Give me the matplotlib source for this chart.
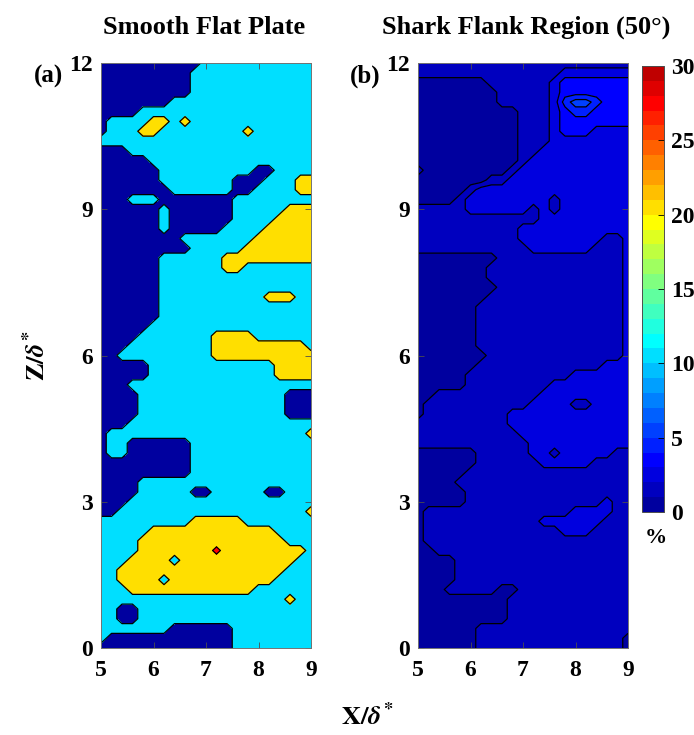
import numpy as np
import matplotlib
matplotlib.use('Agg')
import matplotlib.pyplot as plt
from matplotlib.colors import ListedColormap

plt.rcParams['font.family'] = ['Liberation Serif', 'DejaVu Serif']
plt.rcParams['font.weight'] = 'bold'
plt.rcParams['mathtext.fontset'] = 'stix'

# ---------------- data ----------------
x_values = np.linspace(5, 9, 21)      # X/delta*
z_values = np.linspace(0, 12, 61)     # Z/delta*

# Smooth flat plate: 0 -> <10 %, 1 -> 10-20 %, 2 -> 20-30 %, 3 -> >30 %  (rows from Z=12 down to Z=0)
smooth_rows = [
    "000000000011111111111",
    "000000000111111111111",
    "000000000111111111111",
    "000000000111111111111",
    "000000011111111111111",
    "000011111111111111111",
    "011112212111111111111",
    "011122111111112111111",
    "111111111111111111111",
    "000111111111111111111",
    "000001111111111111111",
    "000000111111111001111",
    "000000111111100011122",
    "000000011111100111122",
    "000111000000011111111",
    "000000100000011111222",
    "000000100000011112222",
    "000000100000111122222",
    "000000001111111222222",
    "000000000111112222222",
    "000000111111222222222",
    "000000111111221111111",
    "000000111111111111111",
    "000000111111111111111",
    "000000111111111122211",
    "000000111111111111111",
    "000000111111111111111",
    "000001111111111111111",
    "000011111112222111111",
    "000111111112222222221",
    "001111111112222222222",
    "000001111111111112222",
    "000001111111111112222",
    "000111111111111111111",
    "000011111111111111000",
    "000011111111111111000",
    "000011111111111111000",
    "000111111111111111111",
    "011111111111111111112",
    "011000000111111111111",
    "011000000111111111111",
    "000000000111111111111",
    "000000000111111111111",
    "000011111111111111111",
    "000011111001111100111",
    "000111111111111111111",
    "001111111111111111112",
    "111111111222221111111",
    "111112222222222221111",
    "111122222222222222111",
    "111122222223222222221",
    "111222212222222222211",
    "112222222222222222111",
    "112222122222222221111",
    "111222222222222111111",
    "111111111111111111211",
    "110011111111111111111",
    "110011111111111111111",
    "111111100000011111111",
    "100000000000011111111",
    "000000000000011111111",
]
smooth_codes = {'0': 5.0, '1': 15.0, '2': 25.0, '3': 33.0}

# Shark flank region: digit d -> colour band d (value between d-1 and d %)
shark_rows = [
    "222222222222222222222",
    "222222222222223333333",
    "111111122222234444444",
    "111111112222234444444",
    "111111112222235665444",
    "111111111122234554444",
    "111111111122234444444",
    "111111111122234443333",
    "111111111122233333333",
    "111111111122333333333",
    "111111111123333333333",
    "211111111233333333333",
    "111111122333333333333",
    "111112333333333333333",
    "111123333333323333333",
    "222223333332323333333",
    "222222222222333333333",
    "222222222233333333333",
    "222222222233333333223",
    "222222222223333332223",
    "111111112222222222223",
    "111111122222222222223",
    "111111122222222222223",
    "111111112222222222223",
    "111111122222222222223",
    "111111222222222222223",
    "111111222222222222223",
    "111111222222222222223",
    "111111222222222222223",
    "111111222222222222223",
    "111111122222222222223",
    "111111222222222222333",
    "111112222222222333333",
    "111112222222233333333",
    "112222222222333333333",
    "122222222223333223333",
    "122222222333333333333",
    "222222222333333333333",
    "222222222233333333333",
    "222222222223333333333",
    "111111222223323333322",
    "111111222222333332222",
    "111112222222222222222",
    "111122222222222222222",
    "111112222222222222222",
    "111112222222222222322",
    "122222222222222333322",
    "122222222222333333222",
    "122222222222223332222",
    "122222222222222222222",
    "112222222222222222222",
    "111122222222222222222",
    "111122222222222222222",
    "111122222222222222222",
    "111222221122222222222",
    "111111111222222222222",
    "111111111222222222222",
    "111111111222222222222",
    "111111222222222222222",
    "111111222222222222221",
    "111111222222222222221",
]
shark_codes = {d: int(d) - 0.5 for d in '123456'}

x_ticks = [5, 6, 7, 8, 9]
z_ticks = [0, 3, 6, 9, 12]
cbar_ticks = [0, 5, 10, 15, 20, 25, 30]

for r in smooth_rows + shark_rows:
    assert len(r) == 21, r
assert len(smooth_rows) == 61 and len(shark_rows) == 61

smooth = np.array([[smooth_codes[c] for c in row] for row in smooth_rows[::-1]])
shark = np.array([[shark_codes[c] for c in row] for row in shark_rows[::-1]])
XX, ZZ = np.meshgrid(x_values, z_values)


def matlab_jet(m):
    n = int(np.ceil(m / 4))
    u = np.concatenate([np.arange(1, n + 1) / n, np.ones(n - 1), np.arange(n, 0, -1) / n])
    g = int(np.ceil(n / 2)) - (1 if m % 4 == 1 else 0) + np.arange(1, len(u) + 1)
    cm = np.zeros((m, 3))
    for col, idxs in enumerate([g + n, g, g - n]):
        for i, v in zip(idxs, u):
            if 1 <= i <= m:
                cm[i - 1, col] = v
    return cm


jet30 = matlab_jet(30)
cmap30 = ListedColormap(jet30)
left_cmap = ListedColormap([jet30[0], jet30[10], jet30[20], jet30[27]])

# ---------------- figure ----------------
W, H = 694, 735
fig = plt.figure(figsize=(W / 100, H / 100), dpi=100)


def fx(px):
    return px / W


def fy(py):
    return 1 - py / H


axL = fig.add_axes([fx(101), fy(648), fx(311) - fx(101), fy(63) - fy(648)])
axR = fig.add_axes([fx(418), fy(648), fx(628) - fx(418), fy(63) - fy(648)])
cax = fig.add_axes([fx(642), fy(512), fx(664) - fx(642), fy(66) - fy(512)])

axL.contourf(XX, ZZ, smooth, levels=[0, 10, 20, 30, 40], cmap=left_cmap, vmin=0, vmax=40)
axL.contour(XX, ZZ, smooth, levels=[10, 20, 30], colors='k', linewidths=0.9)

cs = axR.contourf(XX, ZZ, shark, levels=np.arange(0, 31, 1), cmap=cmap30, vmin=0, vmax=30)
axR.contour(XX, ZZ, shark, levels=np.arange(1, 7, 1), colors='k', linewidths=0.9)

for ax in (axL, axR):
    ax.set_xlim(5, 9)
    ax.set_ylim(0, 12)
    ax.set_xticks(x_ticks)
    ax.set_yticks(z_ticks)
    ax.tick_params(direction='in', top=True, right=True, length=4, width=0.6,
                   color='0.3', labelsize=17)
    ax.tick_params(axis='x', pad=9)
    ax.tick_params(axis='y', pad=6)
    for s in ax.spines.values():
        s.set_color('0.45')
        s.set_linewidth(0.7)

cb = fig.colorbar(cs, cax=cax, ticks=cbar_ticks)
cb.outline.set_linewidth(0.7)
cb.outline.set_edgecolor('0.3')
cax.tick_params(direction='in', length=4, width=0.6, labelsize=17, pad=5)

fig.text(fx(204), fy(27), 'Smooth Flat Plate', ha='center', va='center', fontsize=19, weight='bold')
fig.text(fx(526), fy(27), 'Shark Flank Region (50°)', ha='center', va='center', fontsize=19, weight='bold')
fig.text(fx(48), fy(76), '(a)', ha='center', va='center', fontsize=18, weight='bold')
fig.text(fx(365), fy(76), '(b)', ha='center', va='center', fontsize=18, weight='bold')
fig.text(fx(656), fy(538), '%', ha='center', va='center', fontsize=16, weight='bold')
fig.text(fx(36), fy(355), r'$\mathbf{Z/}\mathit{\delta}^{\mathbf{*}}$', rotation=90,
         ha='center', va='center', fontsize=19)
fig.text(fx(367), fy(716), r'$\mathbf{X/}\mathit{\delta}^{\mathbf{*}}$',
         ha='center', va='center', fontsize=19)

fig.savefig('out.png', dpi=100)
